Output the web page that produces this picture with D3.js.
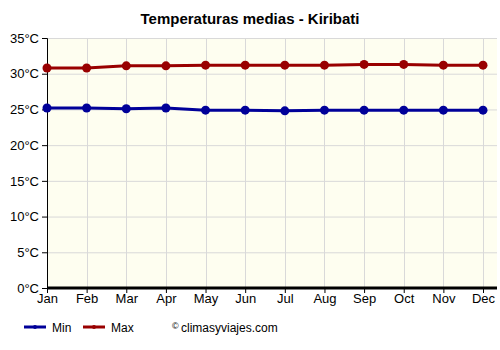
<!DOCTYPE html>
<html>
<head>
<meta charset="utf-8">
<script src="https://cdn.jsdelivr.net/npm/d3@7"></script>
<style>
  body { margin: 0; background: #fff; }
  svg { display: block; font-family: Arial, "Liberation Sans", sans-serif; }
</style>
</head>
<body>
<div id="chart"></div>
<script>
// Monthly mean temperatures, Kiribati.
const months = ["Jan", "Feb", "Mar", "Apr", "May", "Jun", "Jul", "Aug", "Sep", "Oct", "Nov", "Dec"];
const tempMin = [25.2, 25.2, 25.1, 25.2, 24.9, 24.9, 24.8, 24.9, 24.9, 24.9, 24.9, 24.9];
const tempMax = [30.8, 30.8, 31.1, 31.1, 31.2, 31.2, 31.2, 31.2, 31.3, 31.3, 31.2, 31.2];
const yTicks = [0, 5, 10, 15, 20, 25, 30, 35];

const W = 500, H = 350;
const margin = { top: 38, right: 3, bottom: 62, left: 47 };
const iw = W - margin.left - margin.right, ih = H - margin.top - margin.bottom;

const svg = d3.select("#chart").append("svg").attr("width", W).attr("height", H);

svg.append("text").attr("x", 250).attr("y", 24).attr("text-anchor", "middle")
  .style("font-size", "15px").style("font-weight", "bold").attr("fill", "#000")
  .text("Temperaturas medias - Kiribati");

const g = svg.append("g").attr("transform", `translate(${margin.left},${margin.top})`);

const x = d3.scalePoint().domain(months).range([0, 436]);
const y = d3.scaleLinear().domain([0, 35]).range([ih, 0]);

g.append("rect").attr("width", iw).attr("height", ih).attr("fill", "#fefef0");

// grid
g.append("g").selectAll("line").data(yTicks).join("line")
  .attr("x1", 0).attr("x2", iw).attr("y1", (d) => y(d) + 0.5).attr("y2", (d) => y(d) + 0.5)
  .attr("stroke", "#d9d9d9").attr("stroke-width", 1);
g.append("g").selectAll("line").data(months).join("line")
  .attr("x1", (d) => Math.round(x(d)) + 0.5).attr("x2", (d) => Math.round(x(d)) + 0.5).attr("y1", 0).attr("y2", ih)
  .attr("stroke", "#d9d9d9").attr("stroke-width", 1);

// axes
g.append("g").call(d3.axisLeft(y).tickValues(yTicks).tickSize(5).tickFormat((d) => d + "°C"))
  .call((s) => s.select(".domain").attr("stroke", "#000"))
  .call((s) => s.selectAll("line").attr("stroke", "#000"))
  .call((s) => s.selectAll("text").attr("fill", "#000").style("font-size", "13px").style("font-family", "Arial, 'Liberation Sans', sans-serif"));

g.append("g").attr("transform", `translate(0,${ih})`)
  .call(d3.axisBottom(x).tickSize(5).tickSizeOuter(0))
  .call((s) => s.select(".domain").attr("stroke", "#000").attr("stroke-width", 3).attr("d", `M0,0H${iw}`))
  .call((s) => s.selectAll("line").attr("stroke", "#000"))
  .call((s) => s.selectAll("text").attr("fill", "#000").attr("y", 6).style("font-size", "13px").style("font-family", "Arial, 'Liberation Sans', sans-serif"));

const series = [
  { name: "Min", values: tempMin, color: "#000099" },
  { name: "Max", values: tempMax, color: "#990000" },
];

for (const s of series) {
  g.append("path").datum(s.values).attr("fill", "none").attr("stroke", s.color).attr("stroke-width", 3)
    .attr("d", d3.line().x((_, i) => x(months[i])).y((v) => y(v)));
  g.append("g").selectAll("circle").data(s.values).join("circle")
    .attr("cx", (_, i) => x(months[i])).attr("cy", (v) => y(v)).attr("r", 4.5).attr("fill", s.color);
}

// legend
const leg = svg.append("g").attr("transform", "translate(0,327)");
series.forEach((s, i) => {
  const lx = 24 + i * 59;
  leg.append("line").attr("x1", lx).attr("x2", lx + 22).attr("y1", 0).attr("y2", 0).attr("stroke", s.color).attr("stroke-width", 3);
  leg.append("circle").attr("cx", lx + 11).attr("cy", 0).attr("r", 2).attr("fill", s.color);
  leg.append("text").attr("x", lx + 28).attr("y", 5).style("font-size", "12px").attr("fill", "#000").text(s.name);
});
leg.append("text").attr("x", 172).attr("y", 2).style("font-size", "9px").attr("fill", "#000").text("©");
leg.append("text").attr("x", 181).attr("y", 5).style("font-size", "12px").attr("fill", "#000").text("climasyviajes.com");
</script>
</body>
</html>
